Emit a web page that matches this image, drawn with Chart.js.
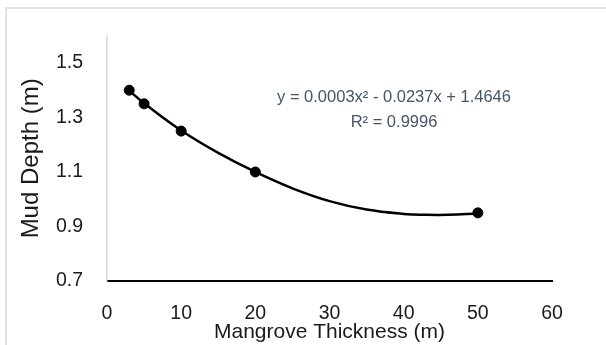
<!DOCTYPE html>
<html>
<head>
<meta charset="utf-8">
<script src="https://cdn.jsdelivr.net/npm/chart.js@4"></script>
<style>
  html, body { margin: 0; padding: 0; background: #ffffff; }
  #wrap { width: 606px; height: 345px; position: relative; }
</style>
</head>
<body>
<div id="wrap"><canvas id="mudChart"></canvas></div>
<script>
// Measured points
const thickness = [3, 5, 10, 20, 50];
const mudDepth = [1.40, 1.35, 1.25, 1.10, 0.95];

// Polynomial trendline
const trendX = [3, 5, 10, 15, 20, 25, 30, 35, 40, 43, 46, 50];
const trendY = [1.398, 1.352, 1.252, 1.170, 1.100, 1.040, 0.993, 0.962, 0.946, 0.943, 0.943, 0.948];

// Tick labels
const xTicks = [0, 10, 20, 30, 40, 50, 60];
const yTicks = [0.7, 0.9, 1.1, 1.3, 1.5];

const trendLabel = ['y = 0.0003x\u00B2 - 0.0237x + 1.4646', 'R\u00B2 = 0.9996'];

const fontFamily = "'Liberation Sans', Arial, sans-serif";

// light frame around the picture + trendline equation
const framePlugin = {
  id: 'frame',
  beforeDraw(chart) {
    const ctx = chart.ctx;
    ctx.save();
    ctx.fillStyle = '#dde1e6';
    ctx.fillRect(5, 7, 601, 2);
    ctx.fillRect(5, 7, 2, 338);
    ctx.restore();
  },
  afterDatasetsDraw(chart) {
    const ctx = chart.ctx;
    ctx.save();
    ctx.fillStyle = '#44546a';
    ctx.font = '16.5px ' + fontFamily;
    ctx.textAlign = 'center';
    ctx.textBaseline = 'middle';
    ctx.fillText(trendLabel[0], 394, 97);
    ctx.fillText(trendLabel[1], 394, 122);
    ctx.restore();
  }
};

new Chart(document.getElementById('mudChart'), {
  type: 'scatter',
  data: {
    datasets: [
      {
        label: 'Trend',
        data: trendX.map((x, i) => ({ x: x, y: trendY[i] })),
        showLine: true,
        borderColor: '#000000',
        borderWidth: 2.5,
        pointRadius: 0,
        tension: 0.4,
        order: 2
      },
      {
        label: 'Mud Depth',
        data: thickness.map((x, i) => ({ x: x, y: mudDepth[i] })),
        backgroundColor: '#000000',
        borderColor: '#000000',
        pointRadius: 5,
        order: 1
      }
    ]
  },
  options: {
    responsive: true,
    maintainAspectRatio: false,
    animation: false,
    layout: {
      padding: { left: 0, right: 54, top: 33, bottom: 0 }
    },
    plugins: {
      legend: { display: false },
      tooltip: { enabled: false }
    },
    scales: {
      x: {
        type: 'linear',
        min: 0,
        max: 60,
        afterBuildTicks: (scale) => { scale.ticks = xTicks.map(v => ({ value: v })); },
        afterFit: (scale) => { scale.height = 64; },
        grid: { display: false, drawTicks: false },
        border: { display: true, color: '#000000', width: 2 },
        ticks: {
          padding: 21,
          color: '#1a1a1a',
          font: { family: fontFamily, size: 19.5 }
        },
        title: {
          display: true,
          text: 'Mangrove Thickness (m)',
          color: '#1a1a1a',
          font: { family: fontFamily, size: 21 },
          padding: { top: 0, bottom: 0 }
        }
      },
      y: {
        min: 0.7,
        max: 1.6,
        afterBuildTicks: (scale) => { scale.ticks = yTicks.map(v => ({ value: v })); },
        afterFit: (scale) => { scale.width = 107; },
        grid: { display: false, drawTicks: false },
        border: { display: true, color: '#d6dbe1', width: 1.5 },
        ticks: {
          padding: 24,
          color: '#1a1a1a',
          font: { family: fontFamily, size: 19.5 },
          callback: (v) => v.toFixed(1)
        },
        title: {
          display: true,
          text: 'Mud Depth (m)',
          color: '#1a1a1a',
          font: { family: fontFamily, size: 24 },
          padding: { top: 17, bottom: 0 }
        }
      }
    }
  },
  plugins: [framePlugin]
});
</script>
</body>
</html>
